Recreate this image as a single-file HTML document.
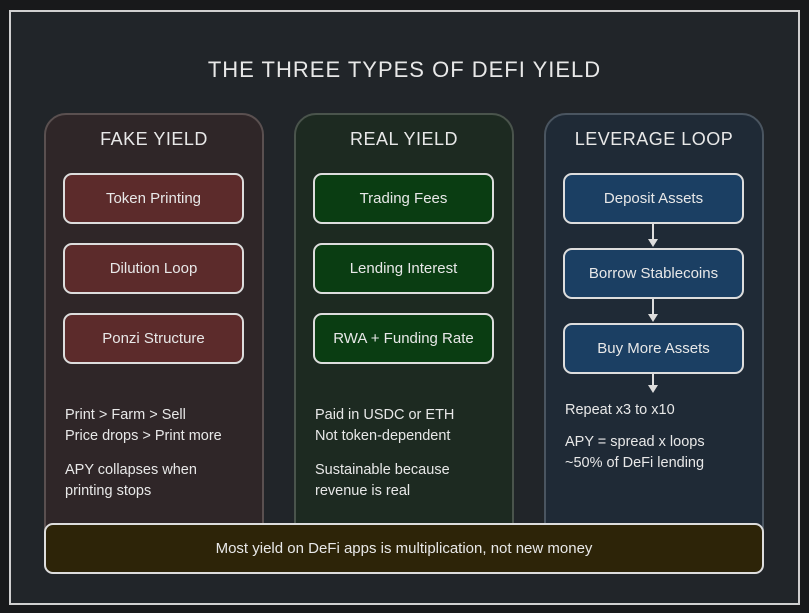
<!DOCTYPE html>
<html><head><meta charset="utf-8"><style>
*{margin:0;padding:0;box-sizing:border-box}
body{width:809px;height:613px;background:#18191b;position:relative;overflow:hidden;font-family:"Liberation Sans",sans-serif;color:#e8e8e8}
.a{position:absolute}
.frame{left:9px;top:10px;width:791px;height:595px;background:#212529;border:2px solid #d0d0d0}
.title{left:0;width:809px;top:57px;text-align:center;font-size:22px;letter-spacing:1px}
.col{top:113px;width:220px;height:440px;border:2px solid #555;border-radius:22px}
.ct{width:220px;text-align:center;top:129px;font-size:18px;letter-spacing:0.5px}
.box{width:181px;height:51px;border:2px solid #ddd;border-radius:9px;text-align:center;line-height:47px;font-size:15px}
.txt{font-size:14.5px;line-height:21px}
.arr{width:2px;background:#ddd}
.ah{width:0;height:0;border-left:5px solid transparent;border-right:5px solid transparent;border-top:8px solid #ddd}
.banner{left:44px;top:523px;width:720px;height:51px;background:#2d2408;border:2px solid #ddd;border-radius:9px;text-align:center;line-height:47px;font-size:15px}
</style></head><body>
<div class="a frame"></div>
<div class="a title">THE THREE TYPES OF DEFI YIELD</div>

<div class="a col" style="left:44px;background:#2f2628;border-color:#5a5050"></div>
<div class="a col" style="left:294px;background:#1d2a21;border-color:#4a544c"></div>
<div class="a col" style="left:544px;background:#1f2a36;border-color:#4a5560"></div>

<div class="a ct" style="left:44px">FAKE YIELD</div>
<div class="a ct" style="left:294px">REAL YIELD</div>
<div class="a ct" style="left:544px">LEVERAGE LOOP</div>

<div class="a box" style="left:63px;top:173px;background:#5c2b2b">Token Printing</div>
<div class="a box" style="left:63px;top:243px;background:#5c2b2b">Dilution Loop</div>
<div class="a box" style="left:63px;top:313px;background:#5c2b2b">Ponzi Structure</div>

<div class="a box" style="left:313px;top:173px;background:#0a3d12">Trading Fees</div>
<div class="a box" style="left:313px;top:243px;background:#0a3d12">Lending Interest</div>
<div class="a box" style="left:313px;top:313px;background:#0a3d12">RWA + Funding Rate</div>

<div class="a box" style="left:563px;top:173px;background:#1b3f63">Deposit Assets</div>
<div class="a box" style="left:563px;top:248px;background:#1b3f63">Borrow Stablecoins</div>
<div class="a box" style="left:563px;top:323px;background:#1b3f63">Buy More Assets</div>

<div class="a arr" style="left:652px;top:224px;height:16px"></div><div class="a ah" style="left:648px;top:239px"></div>
<div class="a arr" style="left:652px;top:299px;height:16px"></div><div class="a ah" style="left:648px;top:314px"></div>
<div class="a arr" style="left:652px;top:374px;height:12px"></div><div class="a ah" style="left:648px;top:385px"></div>

<div class="a txt" style="left:65px;top:405px">Print &gt; Farm &gt; Sell<br>Price drops &gt; Print more</div>
<div class="a txt" style="left:65px;top:460px">APY collapses when<br>printing stops</div>
<div class="a txt" style="left:315px;top:405px">Paid in USDC or ETH<br>Not token-dependent</div>
<div class="a txt" style="left:315px;top:460px">Sustainable because<br>revenue is real</div>
<div class="a txt" style="left:565px;top:400px">Repeat x3 to x10</div>
<div class="a txt" style="left:565px;top:432px">APY = spread x loops<br>~50% of DeFi lending</div>

<div class="a banner">Most yield on DeFi apps is multiplication, not new money</div>
</body></html>
